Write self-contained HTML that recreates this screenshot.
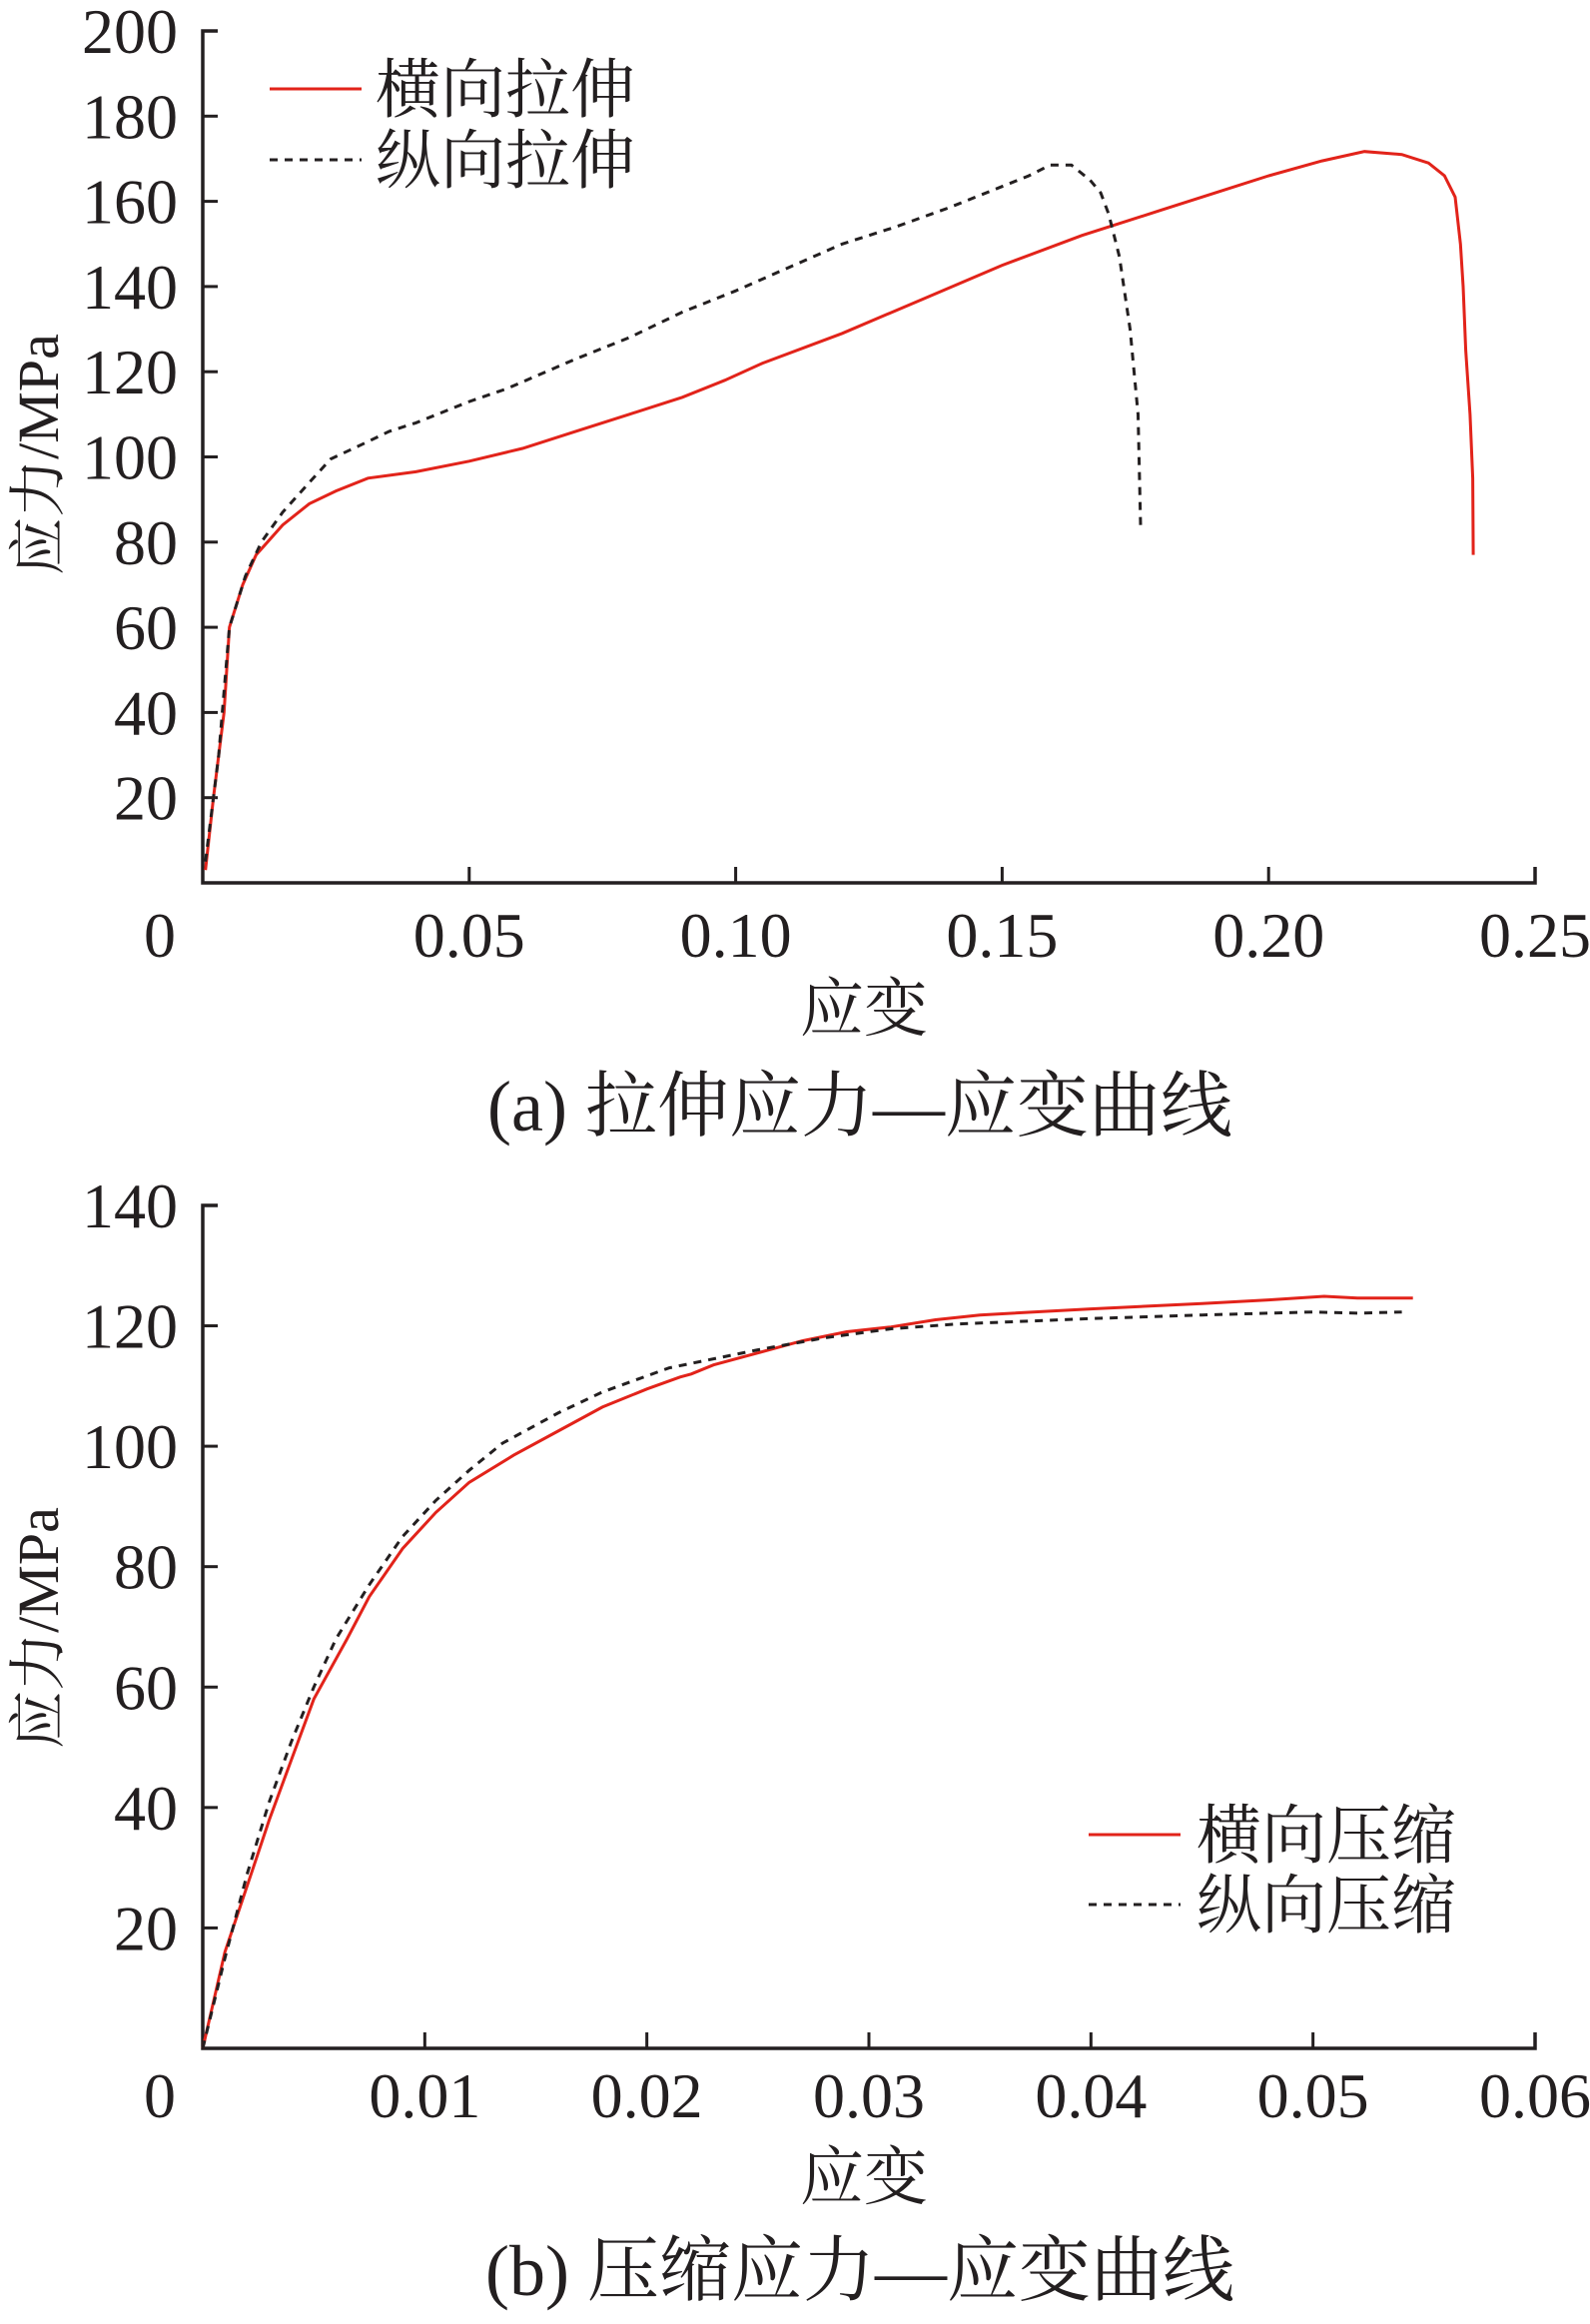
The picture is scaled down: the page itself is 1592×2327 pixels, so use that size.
<!DOCTYPE html>
<html><head><meta charset="utf-8"><style>
html,body{margin:0;padding:0;background:#fff;}
svg{display:block;}
text{font-family:"Liberation Serif","Noto Serif CJK SC",serif;fill:#231f20;}
.cj{font-family:"Liberation Serif","Noto Sans CJK SC",sans-serif;}
</style></head><body>
<svg id="s" width="1592" height="2327" viewBox="0 0 1592 2327" xmlns="http://www.w3.org/2000/svg">
<g stroke="#231f20" stroke-width="3.5" fill="none">
<path d="M218 31H203V884H1537V868"/>
<path d="M218 1207H203V2051H1537V2035"/>
</g>
<g id="ticks" stroke="#231f20" stroke-width="3"></g>
<g font-size="64" text-anchor="end" id="ylab"></g>
<g font-size="64" text-anchor="middle" id="xlab"></g>
<g class="cj" font-size="64" text-anchor="middle">
<text x="865" y="1032">应变</text>
<text x="865" y="2202">应变</text>
<text x="861" y="1132" font-size="72">(a)  拉伸应力—应变曲线</text>
<text x="861" y="2298" font-size="72">(b)  压缩应力—应变曲线</text>
<text transform="translate(58,455) rotate(-90)" font-size="58">应力/MPa</text>
<text transform="translate(58,1630) rotate(-90)" font-size="58">应力/MPa</text>
</g>
<g class="cj" font-size="65">
<line x1="270" y1="89" x2="362" y2="89" stroke="#e2231a" stroke-width="3"/>
<text x="376" y="112">横向拉伸</text>
<line x1="270" y1="160" x2="362" y2="160" stroke="#231f20" stroke-width="3" stroke-dasharray="8,7"/>
<text x="376" y="183">纵向拉伸</text>
<line x1="1090" y1="1837" x2="1182" y2="1837" stroke="#e2231a" stroke-width="3"/>
<text x="1198" y="1860">横向压缩</text>
<line x1="1090" y1="1907" x2="1182" y2="1907" stroke="#231f20" stroke-width="3" stroke-dasharray="8,7"/>
<text x="1198" y="1930">纵向压缩</text>
</g>
<polyline id="ra" fill="none" stroke="#e2231a" stroke-width="3"/>
<polyline id="ba" fill="none" stroke="#231f20" stroke-width="3" stroke-dasharray="8,7"/>
<polyline id="rb" fill="none" stroke="#e2231a" stroke-width="3"/>
<polyline id="bb" fill="none" stroke="#231f20" stroke-width="3" stroke-dasharray="8,7"/>
</svg>
<script>
var NS="http://www.w3.org/2000/svg";
function ax(x){return 203+x*5336}function ay(y){return 884-y*4.265}
function bx(x){return 203+x*22233}function by(y){return 2051-y*6.029}
function pl(id,d,fx,fy){document.getElementById(id).setAttribute("points",d.map(function(p){return fx(p[0]).toFixed(1)+","+fy(p[1]).toFixed(1)}).join(" "));}
pl("ra",[[0.0005,3],[0.002,20],[0.004,40],[0.005,60],[0.0075,70],[0.01,77],[0.015,84],[0.02,89],[0.025,92],[0.031,95],[0.04,96.5],[0.05,99],[0.06,102],[0.07,106],[0.08,110],[0.09,114],[0.098,118],[0.105,122],[0.12,129],[0.135,137],[0.15,145],[0.165,152],[0.18,158],[0.19,162],[0.20,166],[0.21,169.5],[0.218,171.7],[0.225,171],[0.23,169],[0.233,166],[0.235,161],[0.236,150],[0.2365,140],[0.237,125],[0.2378,110],[0.2383,95],[0.2384,77]],ax,ay);
pl("ba",[[0.0005,5],[0.003,30],[0.005,60],[0.008,72],[0.011,80],[0.015,87],[0.02,94],[0.024,99.5],[0.03,103],[0.035,106],[0.04,108],[0.05,113],[0.057,116],[0.07,123],[0.08,128],[0.09,134],[0.10,139],[0.11,144.5],[0.12,150],[0.13,154],[0.14,158.5],[0.15,163.5],[0.155,166],[0.159,168.5],[0.163,168.5],[0.1665,165],[0.1685,162],[0.170,157],[0.172,147],[0.174,130],[0.1755,110],[0.176,83]],ax,ay);
pl("rb",[[0,0],[0.0005,8],[0.001,16],[0.002,27],[0.003,38],[0.004,48],[0.005,58],[0.0065,68],[0.0075,75],[0.009,83],[0.0105,89],[0.012,94],[0.014,98.5],[0.016,102.5],[0.018,106.5],[0.020,109.5],[0.0215,111.5],[0.022,112],[0.023,113.5],[0.025,115.5],[0.027,117.5],[0.029,119],[0.031,119.8],[0.033,121],[0.035,121.8],[0.04,122.8],[0.045,123.7],[0.048,124.3],[0.0505,124.9],[0.052,124.6],[0.0545,124.6]],bx,by);
pl("bb",[[0,0],[0.001,15],[0.002,29],[0.003,41],[0.004,51],[0.005,60],[0.006,68],[0.0075,77],[0.009,85],[0.0105,91],[0.012,96],[0.0135,100.5],[0.016,105.5],[0.018,109],[0.021,113],[0.025,116],[0.028,118],[0.031,119.5],[0.034,120.3],[0.04,121.2],[0.045,121.8],[0.05,122.3],[0.052,122.1],[0.054,122.3]],bx,by);
var t=document.getElementById("ticks"),yl=document.getElementById("ylab"),xl=document.getElementById("xlab");
function el(p,n,a,txt){var e=document.createElementNS(NS,n);for(var k in a)e.setAttribute(k,a[k]);if(txt!==undefined)e.textContent=txt;p.appendChild(e);}
for(var v=20;v<=200;v+=20){var y=ay(v);el(t,"line",{x1:203,x2:218,y1:y,y2:y});el(yl,"text",{x:178,y:y+22},""+v);}
for(var v=20;v<=140;v+=20){var y=by(v);el(t,"line",{x1:203,x2:218,y1:y,y2:y});el(yl,"text",{x:178,y:y+22},""+v);}
var xa=["0","0.05","0.10","0.15","0.20","0.25"];
for(var i=0;i<6;i++){var x=203+i*266.8;if(i>0&&i<5)el(t,"line",{x1:x,x2:x,y1:884,y2:868});el(xl,"text",{x:i==0?160:x,y:958},xa[i]);}
var xb=["0","0.01","0.02","0.03","0.04","0.05","0.06"];
for(var i=0;i<7;i++){var x=203+i*222.33;if(i>0&&i<6)el(t,"line",{x1:x,x2:x,y1:2051,y2:2035});el(xl,"text",{x:i==0?160:x,y:2120},xb[i]);}
</script>
</body></html>
